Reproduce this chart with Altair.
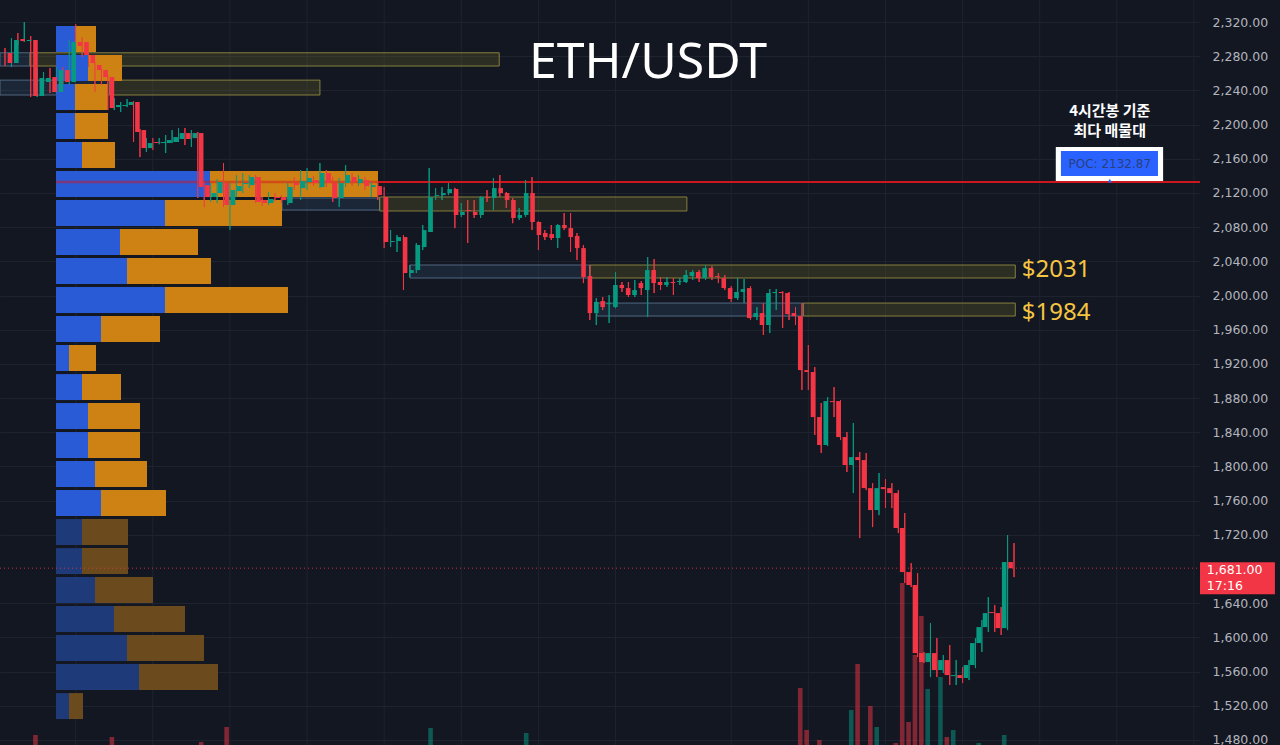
import altair as alt
import pandas as pd

# ---------------- data (4h candles, ETH/USDT) ----------------
opens = [2283.7, 2272.0, 2300.1, 2297.7, 2299.0, 2233.4, 2249.8, 2255.6, 2238.1, 2263.8,
         2249.8, 2296.6, 2296.6, 2281.4, 2269.7, 2263.8, 2255.6, 2220.5, 2221.7, 2222.9,
         2226.4, 2193.6, 2172.5, 2179.6, 2178.4, 2178.4, 2179.6, 2183.1, 2190.1, 2184.2,
         2190.1, 2129.2, 2115.2, 2119.9, 2131.6, 2105.9, 2122.2, 2130.4, 2129.2, 2138.6,
         2111.7, 2108.2, 2115.2, 2115.2, 2108.2, 2131.6, 2125.7, 2132.8, 2135.1, 2126.9,
         2143.3, 2131.6, 2114.1, 2131.6, 2138.6, 2131.6, 2135.1, 2126.9, 2128.1, 2115.2,
         2062.6, 2063.8, 2068.4, 2026.3, 2029.8, 2056.7, 2074.3, 2116.4, 2117.5, 2119.9,
         2124.6, 2094.2, 2100.0, 2097.7, 2094.2, 2115.2, 2114.1, 2125.7, 2119.9, 2111.7,
         2090.7, 2094.2, 2119.9, 2086.0, 2073.1, 2071.9, 2067.3, 2082.5, 2078.9, 2069.6,
         2055.5, 2022.8, 1979.5, 1993.5, 1989.9, 1986.5, 2012.3, 2008.7, 2000.6, 2014.6,
         2006.4, 2029.8, 2015.8, 2012.3, 2015.8, 2015.8, 2015.8, 2022.8, 2027.5, 2020.4,
         2032.1, 2022.8, 2020.4, 2008.7, 1997.0, 2004.1, 2008.7, 1974.8, 1979.5, 1965.5,
         2002.9, 2004.1, 2002.9, 1979.5, 1975.9, 1912.8, 1910.5, 1857.8, 1825.1, 1876.5,
         1876.5, 1834.4, 1801.7, 1811.0, 1807.5, 1774.7, 1749.0, 1775.9, 1774.7, 1768.9,
         1728.0, 1676.5, 1661.3, 1581.7, 1571.2, 1581.7, 1561.8, 1573.5, 1554.8, 1556.0,
         1552.5, 1567.7, 1593.4, 1612.1, 1629.7, 1628.5, 1610.9, 1688.2]
highs = [2289.5, 2301.2, 2307.1, 2320.0, 2303.6, 2266.1, 2261.5, 2266.1, 2267.3, 2267.3,
         2298.9, 2317.6, 2302.4, 2284.9, 2273.2, 2265.0, 2258.0, 2231.0, 2226.4, 2229.9,
         2227.5, 2194.8, 2184.2, 2184.2, 2184.2, 2187.8, 2193.6, 2195.9, 2195.9, 2193.6,
         2191.3, 2132.8, 2131.6, 2136.3, 2155.0, 2131.6, 2141.0, 2143.3, 2141.0, 2141.0,
         2115.2, 2121.0, 2119.9, 2117.5, 2131.6, 2138.6, 2146.8, 2149.1, 2139.8, 2155.0,
         2146.8, 2138.6, 2137.5, 2152.7, 2143.3, 2141.0, 2138.6, 2132.8, 2131.6, 2126.9,
         2076.6, 2070.8, 2070.8, 2035.6, 2061.4, 2082.5, 2149.1, 2125.7, 2126.9, 2131.6,
         2126.0, 2108.2, 2111.7, 2111.7, 2116.0, 2123.4, 2137.5, 2141.0, 2121.1, 2114.1,
         2102.4, 2135.1, 2138.6, 2087.0, 2076.6, 2082.5, 2083.5, 2096.5, 2096.5, 2073.1,
         2059.1, 2035.7, 1997.0, 1998.2, 2000.5, 2027.5, 2015.8, 2015.8, 2018.1, 2017.0,
         2045.0, 2042.7, 2021.6, 2021.6, 2020.4, 2020.4, 2029.8, 2029.8, 2029.8, 2035.7,
         2034.5, 2026.3, 2023.9, 2011.0, 2020.4, 2019.3, 2011.0, 1986.5, 1991.2, 2007.6,
         2007.6, 2005.0, 2004.1, 1986.5, 1991.2, 1942.1, 1916.3, 1874.2, 1881.2, 1892.9,
         1877.7, 1840.3, 1850.8, 1816.9, 1815.7, 1780.6, 1792.3, 1785.3, 1780.6, 1772.4,
         1745.5, 1687.0, 1675.3, 1582.9, 1616.8, 1599.2, 1579.4, 1591.1, 1573.5, 1565.3,
         1573.5, 1599.2, 1620.3, 1647.2, 1637.9, 1635.5, 1719.8, 1710.4]
lows = [2268.5, 2267.3, 2293.1, 2296.6, 2232.2, 2232.2, 2246.3, 2236.9, 2236.9, 2247.4,
        2246.3, 2287.2, 2279.0, 2267.3, 2238.1, 2246.3, 2217.0, 2217.0, 2214.7, 2220.5,
        2179.6, 2162.0, 2167.9, 2170.2, 2177.0, 2166.7, 2178.4, 2179.6, 2176.1, 2173.7,
        2114.1, 2103.5, 2109.4, 2108.2, 2103.5, 2076.6, 2115.2, 2119.9, 2125.7, 2108.2,
        2104.7, 2105.9, 2110.5, 2108.2, 2105.9, 2123.4, 2111.7, 2123.4, 2128.1, 2125.7,
        2126.9, 2109.4, 2103.5, 2126.9, 2128.1, 2128.1, 2123.4, 2115.2, 2111.7, 2055.5,
        2056.7, 2050.9, 2006.4, 2021.6, 2026.3, 2053.2, 2074.3, 2111.7, 2111.7, 2117.5,
        2078.9, 2091.8, 2061.4, 2090.7, 2090.7, 2109.4, 2100.0, 2115.2, 2102.4, 2084.6,
        2088.3, 2091.8, 2076.6, 2053.2, 2064.9, 2064.9, 2055.5, 2076.6, 2050.9, 2041.5,
        2014.6, 1971.3, 1965.5, 1983.0, 1967.8, 1985.0, 2004.1, 1998.2, 1998.2, 2000.6,
        1974.8, 2002.9, 2006.4, 2010.0, 2000.6, 2012.3, 2014.6, 2018.1, 2015.8, 2018.1,
        2018.1, 2014.6, 2006.4, 1992.4, 1994.7, 1991.2, 1971.3, 1971.3, 1953.8, 1956.1,
        1983.0, 1962.0, 1971.3, 1965.5, 1889.4, 1889.4, 1836.8, 1815.7, 1823.9, 1857.8,
        1830.9, 1793.5, 1768.9, 1716.2, 1772.4, 1729.1, 1743.1, 1751.3, 1751.3, 1722.1,
        1663.6, 1658.9, 1577.0, 1570.0, 1553.6, 1553.6, 1558.3, 1544.3, 1544.3, 1546.6,
        1550.1, 1564.1, 1582.9, 1606.3, 1606.3, 1602.8, 1608.6, 1670.6]
closes = [2272.0, 2298.9, 2297.7, 2299.0, 2233.4, 2254.5, 2254.5, 2238.1, 2263.8, 2249.8,
          2296.6, 2291.9, 2281.4, 2272.0, 2263.8, 2255.6, 2219.3, 2222.9, 2222.9, 2226.4,
          2191.3, 2172.5, 2178.4, 2178.4, 2179.6, 2181.9, 2185.4, 2190.1, 2183.1, 2190.1,
          2126.9, 2115.2, 2119.9, 2132.8, 2105.9, 2123.4, 2128.1, 2131.6, 2138.6, 2109.4,
          2108.2, 2112.9, 2114.1, 2111.7, 2126.9, 2129.2, 2133.9, 2137.5, 2131.6, 2143.3,
          2131.6, 2114.1, 2131.6, 2141.0, 2132.8, 2136.3, 2128.1, 2129.2, 2117.5, 2062.6,
          2063.8, 2068.4, 2026.3, 2029.8, 2059.1, 2076.6, 2115.2, 2117.5, 2119.9, 2124.6,
          2094.2, 2097.7, 2098.9, 2094.2, 2115.2, 2114.1, 2125.7, 2119.9, 2111.7, 2090.7,
          2094.2, 2119.9, 2086.0, 2070.8, 2068.4, 2067.3, 2082.5, 2078.9, 2068.4, 2055.5,
          2021.6, 1979.5, 1992.4, 1986.5, 1991.2, 2012.3, 2008.7, 2000.6, 2006.4, 2008.7,
          2029.8, 2014.6, 2012.3, 2015.8, 2014.6, 2017.0, 2024.0, 2027.5, 2020.4, 2032.1,
          2021.6, 2021.6, 2008.7, 1995.9, 2004.1, 2007.6, 1973.6, 1979.5, 1965.5, 2002.9,
          2004.1, 2002.9, 1978.3, 1975.9, 1912.8, 1910.5, 1857.8, 1825.1, 1876.5, 1875.3,
          1834.4, 1801.7, 1811.0, 1807.5, 1774.7, 1749.0, 1774.7, 1773.6, 1768.9, 1728.0,
          1676.5, 1661.3, 1581.7, 1571.2, 1581.7, 1561.8, 1573.5, 1556.0, 1556.0, 1552.5,
          1567.7, 1593.4, 1612.1, 1628.5, 1628.5, 1610.9, 1688.2, 1681.0]

# volume (only the bars that are visible at the bottom)
vol_index = [4, 16, 30, 34, 66, 81, 124, 125, 127, 132, 133, 135, 136, 139, 140, 141,
             142, 143, 144, 146, 147, 148, 152, 156]
vol_values = [5, 4, 1.5, 9, 8.5, 6, 28.5, 7.5, 2.5, 17.5, 40.5, 19.5, 9, 1, 81, 11.5,
              45, 64.5, 28, 34, 4, 7.5, 1, 5]

# visible-range volume profile (row tops in price, buy / sell volume)
profile_top = [2315.3, 2281.4, 2247.4, 2213.5, 2179.6, 2145.6, 2111.7, 2077.8, 2043.8, 2009.9,
               1976.0, 1942.1, 1908.1, 1874.2, 1840.3, 1806.4, 1772.4, 1738.5, 1704.5, 1670.6,
               1636.7, 1602.8, 1568.8, 1534.9]
profile_buy = [1.9, 3.2, 1.9, 1.9, 2.6, 15.4, 10.9, 6.4, 7.1, 10.9, 4.5, 1.3, 2.6, 3.2, 3.2,
               3.9, 4.5, 2.6, 2.6, 3.9, 5.8, 7.1, 8.3, 1.3]
profile_sell = [2.1, 3.4, 3.3, 3.3, 3.3, 16.8, 11.7, 7.8, 8.4, 12.3, 5.9, 2.7, 3.9, 5.2, 5.2,
                5.2, 6.5, 4.6, 4.6, 5.8, 7.1, 7.7, 7.9, 1.4]
value_area_rows = 17

# supply (yellow) / demand (grey-blue) zones: candle index span and price band
zone_kind = ["demand", "supply", "demand", "supply", "demand", "supply",
             "demand", "supply", "demand", "supply"]
zone_start = [-0.78, 3.9, -0.78, 16.3, 43.1, 58.3, 63.0, 91.0, 92.1, 124.2]
zone_end = [3.9, 76.9, 16.3, 49.0, 58.3, 106.1, 91.0, 157.2, 124.2, 157.2]
zone_top = [2284.0, 2284.0, 2252.0, 2252.0, 2114.1, 2115.3, 2035.7, 2035.7, 1991.2, 1991.2]
zone_bottom = [2268.5, 2268.5, 2234.6, 2234.6, 2100.0, 2098.9, 2020.5, 2020.5, 1976.0, 1976.0]

level_labels = ["$2031", "$1984"]
level_prices = [2029.8, 1979.5]

price_ticks = [1480, 1520, 1560, 1600, 1640, 1720, 1760, 1800, 1840, 1880, 1920, 1960,
               2000, 2040, 2080, 2120, 2160, 2200, 2240, 2280, 2320]
time_grid = [11, 23, 35, 47, 59, 71, 83, 95, 113, 125, 137, 149, 161, 173, 185]

poc_price = 2132.87
last_price = 1681.00
countdown = "17:16"

# ---------------- styling ----------------
BG = "#131722"
UP, DOWN = "#089981", "#f23645"
GRID = "#1f2330"
W, H = 1200, 745
XS = alt.Scale(domain=[-0.778, 185.94], nice=False, zero=False)
YS = alt.Scale(domain=[1474.15, 2345.75], nice=False, zero=False)
PXS = alt.Scale(domain=[-5.6, 114.4], nice=False, zero=False)
VS = alt.Scale(domain=[0, 372.5], nice=False)
ROW_H = 30.4

n = len(opens)
candles = pd.DataFrame({"i": list(range(n)), "open": opens, "high": highs,
                        "low": lows, "close": closes})
candles["col"] = [UP if c >= o else DOWN for o, c in zip(opens, closes)]

vol = pd.DataFrame({"i": vol_index, "v": vol_values})
vol["col"] = [candles.loc[k, "col"] for k in vol_index]

rows = []
for k, (t, b, s) in enumerate(zip(profile_top, profile_buy, profile_sell)):
    va = k < value_area_rows
    rows.append({"lo": 0, "hi": b, "top": t, "bot": t - ROW_H,
                 "col": "#2a5bd7" if va else "#1f3a78"})
    rows.append({"lo": b, "hi": b + s, "top": t, "bot": t - ROW_H,
                 "col": "#cf8214" if va else "#6b4b1d"})
prof = pd.DataFrame(rows)
poc_row = max(range(len(profile_top)), key=lambda k: profile_buy[k] + profile_sell[k])
poc_overlay = pd.DataFrame({"lo": [0], "hi": [profile_buy[poc_row] + profile_sell[poc_row]],
                            "p": [poc_price]})

zones = pd.DataFrame({"kind": zone_kind, "x0": zone_start, "x1": zone_end,
                      "top": zone_top, "bot": zone_bottom})
zones["fill"] = ["#6f6d2a" if k == "supply" else "#34506e" for k in zone_kind]
zones["stroke"] = ["#8f8a40" if k == "supply" else "#58708a" for k in zone_kind]

noax = dict(axis=None)

vgrid = alt.Chart(pd.DataFrame({"g": time_grid})).mark_rule(
    color=GRID, strokeWidth=1).encode(x=alt.X("g:Q", scale=XS, **noax))

zone_layer = alt.Chart(zones).mark_rect(fillOpacity=0.28, strokeWidth=1, strokeOpacity=0.9).encode(
    x=alt.X("x0:Q", scale=XS, **noax), x2="x1:Q",
    y=alt.Y("top:Q", scale=YS, **noax), y2="bot:Q",
    fill=alt.Fill("fill:N", scale=None), stroke=alt.Stroke("stroke:N", scale=None))

poc_line = alt.Chart(pd.DataFrame({"x0": [40.0], "x1": [185.94], "p": [poc_price]})).mark_rule(
    color="#d0161d", strokeWidth=2).encode(
    x=alt.X("x0:Q", scale=XS, **noax), x2="x1:Q", y=alt.Y("p:Q", scale=YS, **noax))

prof_layer = alt.Chart(prof).mark_rect().encode(
    x=alt.X("lo:Q", scale=PXS, **noax), x2="hi:Q",
    y=alt.Y("top:Q", scale=YS, **noax), y2="bot:Q",
    color=alt.Color("col:N", scale=None))

poc_prof = alt.Chart(poc_overlay).mark_rule(color="#d0161d", strokeWidth=2.5, opacity=0.5).encode(
    x=alt.X("lo:Q", scale=PXS, **noax), x2="hi:Q", y=alt.Y("p:Q", scale=YS, **noax))

vol_layer = alt.Chart(vol).mark_bar(size=4.6, opacity=0.5).encode(
    x=alt.X("i:Q", scale=XS, **noax),
    y=alt.Y("v:Q", scale=VS, **noax),
    color=alt.Color("col:N", scale=None))

last_line = alt.Chart(pd.DataFrame({"x0": [-0.778], "x1": [185.94], "p": [last_price]})).mark_rule(
    color="#f23645", strokeWidth=1, strokeDash=[1, 3], opacity=0.8).encode(
    x=alt.X("x0:Q", scale=XS, **noax), x2="x1:Q", y=alt.Y("p:Q", scale=YS, **noax))

axis_layer = alt.Chart(candles).mark_rule(strokeWidth=1).encode(
    x=alt.X("i:Q", scale=XS, **noax),
    y=alt.Y("low:Q", scale=YS, axis=alt.Axis(
        orient="right", values=price_ticks, format=",.2f", title=None,
        labelColor="#b2b5be", labelFont="DejaVu Sans", labelFontSize=12.5,
        labelPadding=12, domain=False, ticks=False, grid=True, gridColor=GRID,
        gridWidth=1, labelAlign="left", labelBaseline="middle")),
    y2="high:Q",
    color=alt.Color("col:N", scale=None))

wicks = alt.Chart(candles).mark_rule(strokeWidth=1).encode(
    x=alt.X("i:Q", scale=XS, **noax),
    y=alt.Y("low:Q", scale=YS, **noax), y2="high:Q",
    color=alt.Color("col:N", scale=None))

bodies = alt.Chart(candles).mark_bar(size=4.6).encode(
    x=alt.X("i:Q", scale=XS, **noax),
    y=alt.Y("open:Q", scale=YS, **noax), y2="close:Q",
    color=alt.Color("col:N", scale=None))

levels = alt.Chart(pd.DataFrame({"t": level_labels, "p": level_prices, "x": [158.2, 158.2]})).mark_text(
    align="left", baseline="middle", font="Noto Sans", fontSize=24, color="#f5c542").encode(
    x=alt.X("x:Q", scale=XS, **noax), y=alt.Y("p:Q", scale=YS, **noax), text="t:N")

title = alt.Chart(pd.DataFrame({"t": ["ETH/USDT"], "x": [100.05], "p": [2254.5]})).mark_text(
    align="center", baseline="alphabetic", font="Noto Sans", fontSize=50, color="#ffffff").encode(
    x=alt.X("x:Q", scale=XS, **noax), y=alt.Y("p:Q", scale=YS, **noax), text="t:N")

kor = alt.Chart(pd.DataFrame({"t": ["4시간봉 기준", "최다 매물대"], "x": [171.9, 171.9],
                              "p": [2216.4, 2192.4]})).mark_text(
    align="center", baseline="middle", font="Noto Sans CJK KR", fontSize=15, fontWeight="bold",
    color="#ffffff").encode(
    x=alt.X("x:Q", scale=XS, **noax), y=alt.Y("p:Q", scale=YS, **noax), text="t:N")

poc_boxes = alt.Chart(pd.DataFrame({"x0": [163.5, 164.3], "x1": [180.2, 179.4],
                                    "top": [2173.7, 2169.0], "bot": [2133.9, 2139.7],
                                    "col": ["#ffffff", "#2962ff"]})).mark_rect().encode(
    x=alt.X("x0:Q", scale=XS, **noax), x2="x1:Q",
    y=alt.Y("top:Q", scale=YS, **noax), y2="bot:Q",
    color=alt.Color("col:N", scale=None))

poc_text = alt.Chart(pd.DataFrame({"t": [f"POC: {poc_price:.2f}"], "x": [171.9],
                                   "p": [2154.4]})).mark_text(
    align="center", baseline="middle", font="DejaVu Sans", fontSize=12, color="#2b3f7e").encode(
    x=alt.X("x:Q", scale=XS, **noax), y=alt.Y("p:Q", scale=YS, **noax), text="t:N")

poc_mark = alt.Chart(pd.DataFrame({"x": [171.9], "p": [poc_price + 1.5]})).mark_point(
    shape="triangle-up", filled=True, size=18, color="#2962ff", opacity=1).encode(
    x=alt.X("x:Q", scale=XS, **noax), y=alt.Y("p:Q", scale=YS, **noax))

price_box = alt.Chart(pd.DataFrame({"x0": [185.94], "x1": [197.6], "top": [1688.0],
                                    "bot": [1650.5]})).mark_rect(color="#f23645").encode(
    x=alt.X("x0:Q", scale=XS, **noax), x2="x1:Q",
    y=alt.Y("top:Q", scale=YS, **noax), y2="bot:Q")

price_text = alt.Chart(pd.DataFrame({"t": [f"{last_price:,.2f}", countdown], "x": [187.0, 187.0],
                                     "p": [1678.8, 1660.1]})).mark_text(
    align="left", baseline="middle", font="DejaVu Sans", fontSize=12.5, color="#ffffff").encode(
    x=alt.X("x:Q", scale=XS, **noax), y=alt.Y("p:Q", scale=YS, **noax), text="t:N")

chart = alt.layer(
    axis_layer, vgrid, zone_layer, poc_line, prof_layer, poc_prof, vol_layer, last_line,
    wicks, bodies, levels, title, kor, poc_boxes, poc_text, poc_mark, price_box, price_text
).resolve_scale(x="independent", y="independent").properties(
    width=W, height=H, background=BG,
    padding={"left": 0, "top": 0, "right": 80, "bottom": 0},
    autosize=alt.AutoSizeParams(type="none")
).configure_view(strokeWidth=0)

chart.save("out.html", embed_options={"renderer": "svg", "actions": False})
